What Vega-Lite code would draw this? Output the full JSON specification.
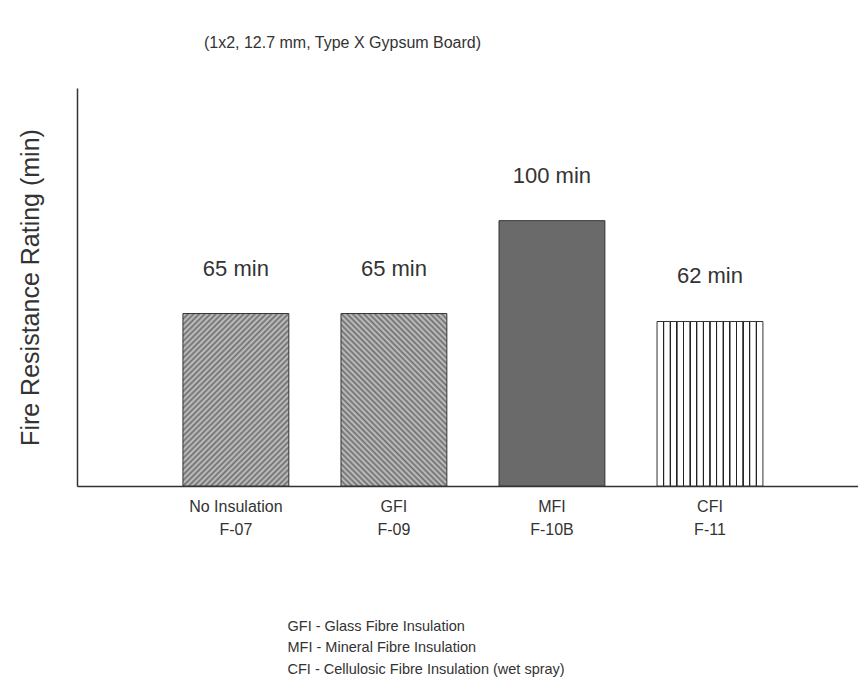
{
  "$schema": "https://vega.github.io/schema/vega-lite/v6.json",
  "width": 781,
  "height": 398,
  "autosize": {"type": "none"},
  "padding": {"left": 77, "top": 88, "right": 0, "bottom": 210},
  "background": "white",
  "config": {"font": "Liberation Sans", "view": {"stroke": null}},
  "title": {"text": "(1x2, 12.7 mm, Type X Gypsum Board)", "anchor": "middle", "frame": "group", "dx": -125, "offset": 37, "fontSize": 16, "fontWeight": "normal", "color": "#333"},
  "data": {"values": [
    {"cat": "No Insulation|F-07", "rating": 65, "label": "65 min"},
    {"cat": "GFI|F-09", "rating": 65, "label": "65 min"},
    {"cat": "MFI|F-10B", "rating": 100, "label": "100 min"},
    {"cat": "CFI|F-11", "rating": 62, "label": "62 min"}
  ]},
  "encoding": {
    "x": {"field": "cat", "type": "nominal", "sort": null,
      "scale": {"paddingInner": 0.33, "paddingOuter": 0.636, "align": 0.527},
      "axis": {"title": ["GFI - Glass Fibre Insulation", "MFI - Mineral Fibre Insulation", "CFI - Cellulosic Fibre Insulation (wet spray)"],
        "titleAlign": "left", "titleAnchor": "start", "titleX": 210, "titleY": 133, "titleBaseline": "top",
        "titleFontSize": 14.5, "titleFontWeight": "normal", "titleColor": "#333", "titleLineHeight": 21.5,
        "labelExpr": "split(datum.label, '|')", "labelAngle": 0, "labelFontSize": 16, "labelColor": "#333",
        "labelPadding": 12, "labelLineHeight": 23, "ticks": false, "domainColor": "#333", "domainWidth": 1.5}},
    "y": {"field": "rating", "type": "quantitative", "scale": {"domain": [0, 150]},
      "axis": {"title": "Fire Resistance Rating (min)", "titleFontSize": 25, "titleFontWeight": "normal", "titleColor": "#333",
        "titlePadding": 34, "labels": false, "ticks": false, "grid": false, "domainColor": "#333", "domainWidth": 1.5}}
  },
  "layer": [
    {"mark": {"type": "bar", "stroke": "#333", "strokeWidth": 1},
     "encoding": {"fill": {"condition": [
       {"test": "datum.cat === 'No Insulation|F-07'", "value": {"gradient": "linear", "x1": 0, "y1": 0, "x2": 0.7202, "y2": 1.172, "stops": [
{"offset":0,"color":"#6e6e6e"},{"offset":0.01,"color":"#c6c6c6"},{"offset":0.02,"color":"#6e6e6e"},{"offset":0.03,"color":"#c6c6c6"},{"offset":0.04,"color":"#6e6e6e"},{"offset":0.05,"color":"#c6c6c6"},{"offset":0.06,"color":"#6e6e6e"},{"offset":0.07,"color":"#c6c6c6"},{"offset":0.08,"color":"#6e6e6e"},{"offset":0.09,"color":"#c6c6c6"},
{"offset":0.1,"color":"#6e6e6e"},{"offset":0.11,"color":"#c6c6c6"},{"offset":0.12,"color":"#6e6e6e"},{"offset":0.13,"color":"#c6c6c6"},{"offset":0.14,"color":"#6e6e6e"},{"offset":0.15,"color":"#c6c6c6"},{"offset":0.16,"color":"#6e6e6e"},{"offset":0.17,"color":"#c6c6c6"},{"offset":0.18,"color":"#6e6e6e"},{"offset":0.19,"color":"#c6c6c6"},
{"offset":0.2,"color":"#6e6e6e"},{"offset":0.21,"color":"#c6c6c6"},{"offset":0.22,"color":"#6e6e6e"},{"offset":0.23,"color":"#c6c6c6"},{"offset":0.24,"color":"#6e6e6e"},{"offset":0.25,"color":"#c6c6c6"},{"offset":0.26,"color":"#6e6e6e"},{"offset":0.27,"color":"#c6c6c6"},{"offset":0.28,"color":"#6e6e6e"},{"offset":0.29,"color":"#c6c6c6"},
{"offset":0.3,"color":"#6e6e6e"},{"offset":0.31,"color":"#c6c6c6"},{"offset":0.32,"color":"#6e6e6e"},{"offset":0.33,"color":"#c6c6c6"},{"offset":0.34,"color":"#6e6e6e"},{"offset":0.35,"color":"#c6c6c6"},{"offset":0.36,"color":"#6e6e6e"},{"offset":0.37,"color":"#c6c6c6"},{"offset":0.38,"color":"#6e6e6e"},{"offset":0.39,"color":"#c6c6c6"},
{"offset":0.4,"color":"#6e6e6e"},{"offset":0.41,"color":"#c6c6c6"},{"offset":0.42,"color":"#6e6e6e"},{"offset":0.43,"color":"#c6c6c6"},{"offset":0.44,"color":"#6e6e6e"},{"offset":0.45,"color":"#c6c6c6"},{"offset":0.46,"color":"#6e6e6e"},{"offset":0.47,"color":"#c6c6c6"},{"offset":0.48,"color":"#6e6e6e"},{"offset":0.49,"color":"#c6c6c6"},
{"offset":0.5,"color":"#6e6e6e"},{"offset":0.51,"color":"#c6c6c6"},{"offset":0.52,"color":"#6e6e6e"},{"offset":0.53,"color":"#c6c6c6"},{"offset":0.54,"color":"#6e6e6e"},{"offset":0.55,"color":"#c6c6c6"},{"offset":0.56,"color":"#6e6e6e"},{"offset":0.57,"color":"#c6c6c6"},{"offset":0.58,"color":"#6e6e6e"},{"offset":0.59,"color":"#c6c6c6"},
{"offset":0.6,"color":"#6e6e6e"},{"offset":0.61,"color":"#c6c6c6"},{"offset":0.62,"color":"#6e6e6e"},{"offset":0.63,"color":"#c6c6c6"},{"offset":0.64,"color":"#6e6e6e"},{"offset":0.65,"color":"#c6c6c6"},{"offset":0.66,"color":"#6e6e6e"},{"offset":0.67,"color":"#c6c6c6"},{"offset":0.68,"color":"#6e6e6e"},{"offset":0.69,"color":"#c6c6c6"},
{"offset":0.7,"color":"#6e6e6e"},{"offset":0.71,"color":"#c6c6c6"},{"offset":0.72,"color":"#6e6e6e"},{"offset":0.73,"color":"#c6c6c6"},{"offset":0.74,"color":"#6e6e6e"},{"offset":0.75,"color":"#c6c6c6"},{"offset":0.76,"color":"#6e6e6e"},{"offset":0.77,"color":"#c6c6c6"},{"offset":0.78,"color":"#6e6e6e"},{"offset":0.79,"color":"#c6c6c6"},
{"offset":0.8,"color":"#6e6e6e"},{"offset":0.81,"color":"#c6c6c6"},{"offset":0.82,"color":"#6e6e6e"},{"offset":0.83,"color":"#c6c6c6"},{"offset":0.84,"color":"#6e6e6e"},{"offset":0.85,"color":"#c6c6c6"},{"offset":0.86,"color":"#6e6e6e"},{"offset":0.87,"color":"#c6c6c6"},{"offset":0.88,"color":"#6e6e6e"},{"offset":0.89,"color":"#c6c6c6"},
{"offset":0.9,"color":"#6e6e6e"},{"offset":0.91,"color":"#c6c6c6"},{"offset":0.92,"color":"#6e6e6e"},{"offset":0.93,"color":"#c6c6c6"},{"offset":0.94,"color":"#6e6e6e"},{"offset":0.95,"color":"#c6c6c6"},{"offset":0.96,"color":"#6e6e6e"},{"offset":0.97,"color":"#c6c6c6"},{"offset":0.98,"color":"#6e6e6e"},{"offset":0.99,"color":"#c6c6c6"},
{"offset":1,"color":"#6e6e6e"}]}},
       {"test": "datum.cat === 'GFI|F-09'", "value": {"gradient": "linear", "x1": 1, "y1": 0, "x2": 0.2798, "y2": 1.172, "stops": [
{"offset":0,"color":"#6e6e6e"},{"offset":0.01,"color":"#c6c6c6"},{"offset":0.02,"color":"#6e6e6e"},{"offset":0.03,"color":"#c6c6c6"},{"offset":0.04,"color":"#6e6e6e"},{"offset":0.05,"color":"#c6c6c6"},{"offset":0.06,"color":"#6e6e6e"},{"offset":0.07,"color":"#c6c6c6"},{"offset":0.08,"color":"#6e6e6e"},{"offset":0.09,"color":"#c6c6c6"},
{"offset":0.1,"color":"#6e6e6e"},{"offset":0.11,"color":"#c6c6c6"},{"offset":0.12,"color":"#6e6e6e"},{"offset":0.13,"color":"#c6c6c6"},{"offset":0.14,"color":"#6e6e6e"},{"offset":0.15,"color":"#c6c6c6"},{"offset":0.16,"color":"#6e6e6e"},{"offset":0.17,"color":"#c6c6c6"},{"offset":0.18,"color":"#6e6e6e"},{"offset":0.19,"color":"#c6c6c6"},
{"offset":0.2,"color":"#6e6e6e"},{"offset":0.21,"color":"#c6c6c6"},{"offset":0.22,"color":"#6e6e6e"},{"offset":0.23,"color":"#c6c6c6"},{"offset":0.24,"color":"#6e6e6e"},{"offset":0.25,"color":"#c6c6c6"},{"offset":0.26,"color":"#6e6e6e"},{"offset":0.27,"color":"#c6c6c6"},{"offset":0.28,"color":"#6e6e6e"},{"offset":0.29,"color":"#c6c6c6"},
{"offset":0.3,"color":"#6e6e6e"},{"offset":0.31,"color":"#c6c6c6"},{"offset":0.32,"color":"#6e6e6e"},{"offset":0.33,"color":"#c6c6c6"},{"offset":0.34,"color":"#6e6e6e"},{"offset":0.35,"color":"#c6c6c6"},{"offset":0.36,"color":"#6e6e6e"},{"offset":0.37,"color":"#c6c6c6"},{"offset":0.38,"color":"#6e6e6e"},{"offset":0.39,"color":"#c6c6c6"},
{"offset":0.4,"color":"#6e6e6e"},{"offset":0.41,"color":"#c6c6c6"},{"offset":0.42,"color":"#6e6e6e"},{"offset":0.43,"color":"#c6c6c6"},{"offset":0.44,"color":"#6e6e6e"},{"offset":0.45,"color":"#c6c6c6"},{"offset":0.46,"color":"#6e6e6e"},{"offset":0.47,"color":"#c6c6c6"},{"offset":0.48,"color":"#6e6e6e"},{"offset":0.49,"color":"#c6c6c6"},
{"offset":0.5,"color":"#6e6e6e"},{"offset":0.51,"color":"#c6c6c6"},{"offset":0.52,"color":"#6e6e6e"},{"offset":0.53,"color":"#c6c6c6"},{"offset":0.54,"color":"#6e6e6e"},{"offset":0.55,"color":"#c6c6c6"},{"offset":0.56,"color":"#6e6e6e"},{"offset":0.57,"color":"#c6c6c6"},{"offset":0.58,"color":"#6e6e6e"},{"offset":0.59,"color":"#c6c6c6"},
{"offset":0.6,"color":"#6e6e6e"},{"offset":0.61,"color":"#c6c6c6"},{"offset":0.62,"color":"#6e6e6e"},{"offset":0.63,"color":"#c6c6c6"},{"offset":0.64,"color":"#6e6e6e"},{"offset":0.65,"color":"#c6c6c6"},{"offset":0.66,"color":"#6e6e6e"},{"offset":0.67,"color":"#c6c6c6"},{"offset":0.68,"color":"#6e6e6e"},{"offset":0.69,"color":"#c6c6c6"},
{"offset":0.7,"color":"#6e6e6e"},{"offset":0.71,"color":"#c6c6c6"},{"offset":0.72,"color":"#6e6e6e"},{"offset":0.73,"color":"#c6c6c6"},{"offset":0.74,"color":"#6e6e6e"},{"offset":0.75,"color":"#c6c6c6"},{"offset":0.76,"color":"#6e6e6e"},{"offset":0.77,"color":"#c6c6c6"},{"offset":0.78,"color":"#6e6e6e"},{"offset":0.79,"color":"#c6c6c6"},
{"offset":0.8,"color":"#6e6e6e"},{"offset":0.81,"color":"#c6c6c6"},{"offset":0.82,"color":"#6e6e6e"},{"offset":0.83,"color":"#c6c6c6"},{"offset":0.84,"color":"#6e6e6e"},{"offset":0.85,"color":"#c6c6c6"},{"offset":0.86,"color":"#6e6e6e"},{"offset":0.87,"color":"#c6c6c6"},{"offset":0.88,"color":"#6e6e6e"},{"offset":0.89,"color":"#c6c6c6"},
{"offset":0.9,"color":"#6e6e6e"},{"offset":0.91,"color":"#c6c6c6"},{"offset":0.92,"color":"#6e6e6e"},{"offset":0.93,"color":"#c6c6c6"},{"offset":0.94,"color":"#6e6e6e"},{"offset":0.95,"color":"#c6c6c6"},{"offset":0.96,"color":"#6e6e6e"},{"offset":0.97,"color":"#c6c6c6"},{"offset":0.98,"color":"#6e6e6e"},{"offset":0.99,"color":"#c6c6c6"},
{"offset":1,"color":"#6e6e6e"}]}},
       {"test": "datum.cat === 'CFI|F-11'", "value": {"gradient": "linear", "x1": 0, "y1": 0, "x2": 1, "y2": 0, "stops": [
{"offset":0,"color":"#ffffff"},
{"offset":0.0535,"color":"#ffffff"},{"offset":0.0585,"color":"#222222"},{"offset":0.0665,"color":"#222222"},{"offset":0.0715,"color":"#ffffff"},
{"offset":0.116,"color":"#ffffff"},{"offset":0.121,"color":"#222222"},{"offset":0.129,"color":"#222222"},{"offset":0.134,"color":"#ffffff"},
{"offset":0.1785,"color":"#ffffff"},{"offset":0.1835,"color":"#222222"},{"offset":0.1915,"color":"#222222"},{"offset":0.1965,"color":"#ffffff"},
{"offset":0.241,"color":"#ffffff"},{"offset":0.246,"color":"#222222"},{"offset":0.254,"color":"#222222"},{"offset":0.259,"color":"#ffffff"},
{"offset":0.3035,"color":"#ffffff"},{"offset":0.3085,"color":"#222222"},{"offset":0.3165,"color":"#222222"},{"offset":0.3215,"color":"#ffffff"},
{"offset":0.366,"color":"#ffffff"},{"offset":0.371,"color":"#222222"},{"offset":0.379,"color":"#222222"},{"offset":0.384,"color":"#ffffff"},
{"offset":0.4285,"color":"#ffffff"},{"offset":0.4335,"color":"#222222"},{"offset":0.4415,"color":"#222222"},{"offset":0.4465,"color":"#ffffff"},
{"offset":0.491,"color":"#ffffff"},{"offset":0.496,"color":"#222222"},{"offset":0.504,"color":"#222222"},{"offset":0.509,"color":"#ffffff"},
{"offset":0.5535,"color":"#ffffff"},{"offset":0.5585,"color":"#222222"},{"offset":0.5665,"color":"#222222"},{"offset":0.5715,"color":"#ffffff"},
{"offset":0.616,"color":"#ffffff"},{"offset":0.621,"color":"#222222"},{"offset":0.629,"color":"#222222"},{"offset":0.634,"color":"#ffffff"},
{"offset":0.6785,"color":"#ffffff"},{"offset":0.6835,"color":"#222222"},{"offset":0.6915,"color":"#222222"},{"offset":0.6965,"color":"#ffffff"},
{"offset":0.741,"color":"#ffffff"},{"offset":0.746,"color":"#222222"},{"offset":0.754,"color":"#222222"},{"offset":0.759,"color":"#ffffff"},
{"offset":0.8035,"color":"#ffffff"},{"offset":0.8085,"color":"#222222"},{"offset":0.8165,"color":"#222222"},{"offset":0.8215,"color":"#ffffff"},
{"offset":0.866,"color":"#ffffff"},{"offset":0.871,"color":"#222222"},{"offset":0.879,"color":"#222222"},{"offset":0.884,"color":"#ffffff"},
{"offset":0.9285,"color":"#ffffff"},{"offset":0.9335,"color":"#222222"},{"offset":0.9415,"color":"#222222"},{"offset":0.9465,"color":"#ffffff"},
{"offset":1,"color":"#ffffff"}]}}
     ], "value": "#6a6a6a"}}},
    {"mark": {"type": "text", "baseline": "alphabetic", "dy": -38, "fontSize": 22, "color": "#333"},
     "encoding": {"text": {"field": "label"}}}
  ]
}
